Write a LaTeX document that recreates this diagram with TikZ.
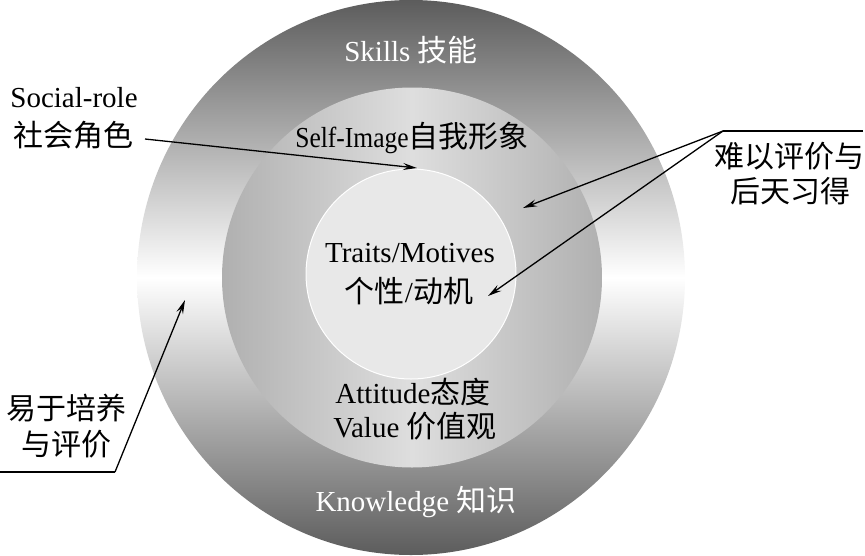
\documentclass[tikz,border=0pt]{standalone}
\usepackage{fontspec}
\setmainfont{Liberation Serif}
\newfontfamily\cjk{Noto Sans CJK SC}
\usetikzlibrary{arrows.meta}
\definecolor{ringout}{HTML}{5C5C5C}
\definecolor{ringmid}{HTML}{B0B0B0}
\definecolor{ringmidc}{HTML}{DEDEDE}
\definecolor{corefill}{HTML}{E8E8E8}
\newcommand\zh[1]{{\cjk\fontsize{30}{36}\selectfont #1}}
\begin{document}
\begin{tikzpicture}[x=1pt,y=-1pt,
  lbl/.style={inner sep=0pt, anchor=base, font=\fontsize{29}{34}\selectfont},
  wlbl/.style={lbl, text=white},
  arr/.style={line width=1.3pt, -{Stealth[length=14pt,width=7pt,inset=5pt]}},
  ln/.style={line width=1.3pt}]
\useasboundingbox (0,0) rectangle (865,555);
% rings
\shade[top color=ringout, bottom color=ringout, middle color=white]
  (411,277.5) ellipse [x radius=274, y radius=277.5];
\shade[left color=ringmid, right color=ringmid, middle color=ringmidc]
  (412,277.5) circle [radius=190];
\fill[corefill] (411,274) circle [radius=105];
\draw[white, line width=1pt] (411,274) circle [radius=105];
% ring labels
\node[wlbl] (skills) at (411,61) {Skills \zh{技能}};
\node[lbl] (self) at (412,147) {\scalebox{0.88}[1]{Self-Image}\zh{自我形象}};
\node[lbl] (traits) at (410,262) {Traits/Motives};
\node[lbl] (traitszh) at (409,302) {\zh{个性}/\zh{动机}};
\node[lbl] (att) at (413,403) {Attitude\zh{态度}};
\node[lbl] (val) at (415,437) {Value \zh{价值观}};
\node[wlbl] (know) at (416,511) {Knowledge \zh{知识}};
% side labels
\node[lbl] (social) at (74,107) {Social-role};
\node[lbl] (socialzh) at (73,146) {\zh{社会角色}};
\node[lbl] (hard1) at (789,167) {\zh{难以评价与}};
\node[lbl] (hard2) at (790,202) {\zh{后天习得}};
\node[lbl] (easy1) at (66,419) {\zh{易于培养}};
\node[lbl] (easy2) at (66,455) {\zh{与评价}};
% connector points
\coordinate (socialstart) at (145,139);
\coordinate (socialtip) at (417,168);
\coordinate (hub) at (723,131);
\coordinate (hubend) at (863,131);
\coordinate (tipself) at (523,208);
\coordinate (tipcore) at (488,296);
\coordinate (easyend) at (0,472);
\coordinate (easyknee) at (115,472);
\coordinate (easytip) at (185,300);
% connectors
\draw[arr] (socialstart) -- (socialtip);
\draw[ln] (hubend) -- (hub);
\draw[arr] (hub) -- (tipself);
\draw[arr] (hub) -- (tipcore);
\draw[ln] (easyend) -- (easyknee);
\draw[arr] (easyknee) -- (easytip);
\end{tikzpicture}
\end{document}
